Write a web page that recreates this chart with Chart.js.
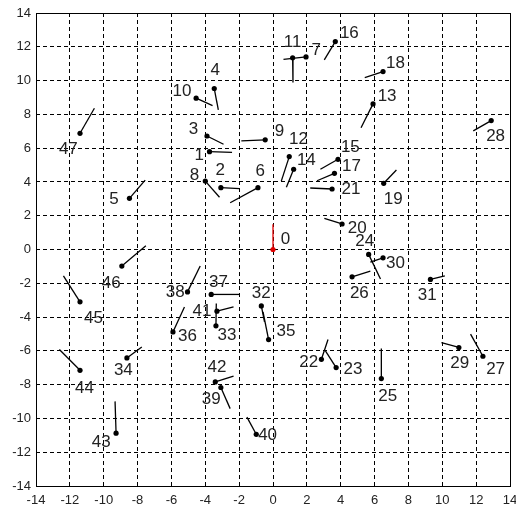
<!DOCTYPE html>
<html>
<head>
<meta charset="utf-8">
<script src="https://cdn.jsdelivr.net/npm/chart.js@4/dist/chart.umd.min.js"></script>
<style>
  html, body { margin: 0; padding: 0; background: #fff; }
  #wrap { width: 516px; height: 510px; }
</style>
</head>
<body>
<div id="wrap"><canvas id="c"></canvas></div>
<script>
// Puntos numerados: posicion del punto, extremo del segmento y posicion de la etiqueta
const ids = [0, 1, 2, 3, 4, 5, 6, 7, 8, 9, 10, 11, 12, 13, 14, 15, 16, 17, 18, 19, 20, 21, 22, 23,
  24, 25, 26, 27, 28, 29, 30, 31, 32, 33, 34, 35, 36, 37, 38, 39, 40, 41, 42, 43, 44, 45, 46, 47];
const ptX = [0, -3.75, -3.08, -3.9, -3.47, -8.48, -0.89, 1.95, -4.0, -0.46, -4.54, 1.16, 0.96, 5.91, 1.22, 3.84,
  3.68, 3.63, 6.5, 6.54, 4.08, 3.49, 2.86, 3.73, 5.65, 6.4, 4.67, 12.4, 12.89, 10.98, 6.5, 9.3,
  -0.69, -3.37, -8.63, -0.26, -5.91, -3.65, -5.05, -3.08, -0.99, -3.31, -3.41, -9.27, -11.4, -11.4, -8.93, -11.4];
const ptY = [0, 5.79, 3.66, 6.72, 9.53, 3.03, 3.66, 11.4, 4.05, 6.49, 8.96, 11.35, 5.5, 8.62, 4.75, 5.34,
  12.31, 4.51, 10.53, 3.92, 1.51, 3.58, -6.5, -6.99, -0.29, -7.64, -1.62, -6.32, 7.63, -5.8, -0.49, -1.77,
  -3.34, -4.52, -6.42, -5.33, -4.88, -2.66, -2.51, -8.17, -10.94, -3.65, -7.84, -10.87, -7.15, -3.1, -0.98, 6.88];
const endX = [0, -2.42, -1.97, -2.92, -3.23, -7.55, -2.53, 0.62, -3.16, -1.87, -3.57, 1.18, 0.49, 5.2, 0.79, 2.8,
  3.03, 2.6, 5.42, 7.29, 3.03, 2.2, 3.25, 3.07, 6.35, 6.4, 5.75, 11.67, 11.83, 9.95, 5.75, 10.15,
  -0.5, -3.35, -7.75, -0.59, -5.23, -1.98, -4.3, -2.53, -1.54, -2.33, -2.33, -9.33, -12.62, -12.38, -7.51, -10.55];
const endY = [1.5, 5.75, 3.6, 6.23, 8.27, 4.11, 2.77, 11.25, 3.09, 6.43, 8.52, 9.89, 4.05, 7.21, 3.68, 4.75,
  11.23, 4.07, 10.18, 4.71, 1.84, 3.64, -5.33, -5.96, -1.75, -5.86, -1.28, -5.01, 7.02, -5.51, -0.75, -1.56,
  -4.29, -3.2, -5.77, -3.69, -3.4, -2.66, -0.98, -9.42, -9.92, -3.4, -7.49, -8.99, -5.92, -1.56, 0.22, 8.36];
const labX = [0.73, -4.36, -3.12, -4.70, -3.41, -9.39, -0.75, 2.56, -4.64, 0.39, -5.38, 1.16, 1.51, 6.74, 1.97, 4.57,
  4.51, 4.63, 7.23, 7.10, 4.97, 4.61, 2.11, 4.73, 5.42, 6.78, 5.10, 13.15, 13.15, 11.03, 7.23, 9.11,
  -0.69, -2.72, -8.84, 0.77, -5.05, -3.22, -5.78, -3.65, -0.32, -4.20, -3.31, -10.15, -11.14, -10.61, -9.56, -12.09];
const labY = [0.60, 5.60, 4.71, 7.14, 10.58, 2.97, 4.61, 11.82, 4.41, 6.98, 9.35, 12.28, 6.53, 9.05, 5.26, 6.05,
  12.81, 4.90, 11.03, 2.97, 1.25, 3.56, -6.66, -7.11, 0.46, -8.69, -2.57, -7.11, 6.72, -6.75, -0.79, -2.70,
  -2.60, -5.07, -7.15, -4.82, -5.13, -1.95, -2.54, -8.89, -11.00, -3.63, -6.95, -11.40, -8.23, -4.08, -2.01, 5.93];

const AXIS_MIN = -14;
const AXIS_MAX = 14;
const STEP = 2;
const FONT = 'Arial, "Liberation Sans", sans-serif';

function colorFor(id) {
  return id === 0 ? "#e00000" : "#000";
}

// un dataset por segmento, asi cada uno queda independiente
const segDatasets = ids.map((id, i) => ({
  type: "line",
  data: [{ x: ptX[i], y: ptY[i] }, { x: endX[i], y: endY[i] }],
  borderColor: colorFor(id),
  borderWidth: 1.3,
  pointRadius: 0,
  fill: false,
  tension: 0,
}));

const dotDataset = {
  type: "scatter",
  data: ids.map((id, i) => ({ x: ptX[i], y: ptY[i] })),
  pointRadius: 2.6,
  pointBorderWidth: 0,
  pointBackgroundColor: ids.map(colorFor),
  pointBorderColor: ids.map(colorFor),
};

const labelPlugin = {
  id: "labels",
  afterDatasetsDraw(chart) {
    const { ctx, scales } = chart;
    ctx.save();
    ctx.font = "17px " + FONT;
    ctx.fillStyle = "#222";
    ctx.textAlign = "center";
    ctx.textBaseline = "middle";
    ids.forEach((id, i) => {
      ctx.fillText(String(id), scales.x.getPixelForValue(labX[i]), scales.y.getPixelForValue(labY[i]));
    });
    ctx.restore();
  },
};

const boxPlugin = {
  id: "box",
  afterDraw(chart) {
    const a = chart.chartArea;
    const ctx = chart.ctx;
    ctx.save();
    ctx.strokeStyle = "#000";
    ctx.lineWidth = 1;
    ctx.setLineDash([]);
    ctx.strokeRect(Math.round(a.left) + 0.5, Math.round(a.top) + 0.5,
      Math.round(a.right - a.left), Math.round(a.bottom - a.top));
    ctx.restore();
  },
};

function gridColor(c) {
  const v = c.tick ? c.tick.value : 0;
  return v === AXIS_MIN || v === AXIS_MAX ? "rgba(0,0,0,0)" : "#000";
}

new Chart(document.getElementById("c"), {
  type: "scatter",
  data: { datasets: [...segDatasets, dotDataset] },
  options: {
    responsive: true,
    maintainAspectRatio: false,
    animation: false,
    layout: { padding: { top: 13, right: 6, left: 0, bottom: 0 } },
    plugins: { legend: { display: false }, tooltip: { enabled: false } },
    scales: {
      x: {
        type: "linear",
        min: AXIS_MIN,
        max: AXIS_MAX,
        afterFit: (s) => { s.height = 24; s.paddingLeft = 0; s.paddingRight = 0; },
        ticks: { stepSize: STEP, color: "#222", font: { family: FONT, size: 13 }, padding: 7, maxRotation: 0 },
        grid: { color: gridColor, lineWidth: 1, drawTicks: false },
        border: { display: false, dash: [4, 3] },
      },
      y: {
        type: "linear",
        min: AXIS_MIN,
        max: AXIS_MAX,
        afterFit: (s) => { s.width = 36; s.paddingTop = 0; s.paddingBottom = 0; },
        ticks: { stepSize: STEP, color: "#222", font: { family: FONT, size: 13 }, padding: 5 },
        grid: { color: gridColor, lineWidth: 1, drawTicks: false },
        border: { display: false, dash: [4, 3] },
      },
    },
  },
  plugins: [labelPlugin, boxPlugin],
});
</script>
</body>
</html>
